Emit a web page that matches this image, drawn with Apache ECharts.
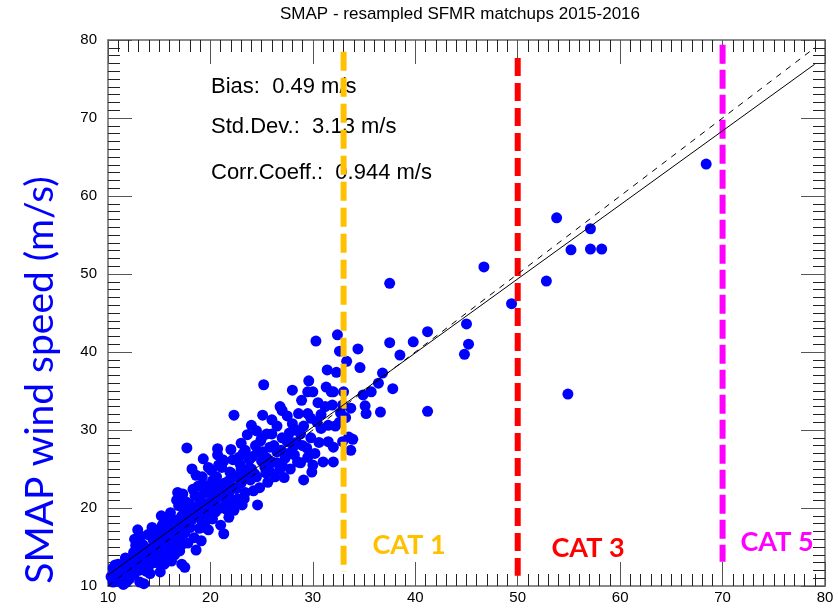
<!DOCTYPE html>
<html><head><meta charset="utf-8">
<script src="https://cdn.jsdelivr.net/npm/echarts@6/dist/echarts.min.js"></script>
<style>html,body{margin:0;padding:0;background:#fff}#c{width:838px;height:611px}</style>
</head><body><div id="c"></div>
<script>
const titleText = "SMAP - resampled SFMR matchups 2015-2016";
const yAxisTitle = "SMAP wind speed (m/s)";
const statsLines = ["Bias:  0.49 m/s", "Std.Dev.:  3.13 m/s", "Corr.Coeff.:  0.944 m/s"];
const catLabels = ["CAT 1", "CAT 3", "CAT 5"];
const xTicks = [10, 20, 30, 40, 50, 60, 70, 80];
const yTicks = [10, 20, 30, 40, 50, 60, 70, 80];

const matchups = [
 [10.3,11.2],[10.5,12.3],[10.8,10.6],[10.6,11.8],[11.2,11.0],[11.0,12.8],[10.7,12.7],[11.5,10.2],[11.3,12.0],
 [11.8,11.5],[12.0,11.8],[12.2,13.2],[11.7,13.6],[12.4,12.6],[12.1,10.9],[12.5,14.3],[12.9,13.0],[13.1,10.5],[13.5,10.3],[12.7,15.2],
 [12.9,17.2],[13.2,16.4],[12.6,16.0],
 [13.3,12.2],[13.6,13.5],[13.8,14.8],[13.4,15.3],[14.0,12.6],[14.2,13.8],[14.4,15.9],[13.9,16.6],[14.6,14.4],[14.1,11.6],[14.8,13.0],[13.7,11.9],
 [15.0,15.0],[15.2,16.2],[15.4,14.2],[14.9,17.1],[15.5,12.8],[15.7,15.6],[15.3,17.8],[15.9,16.8],[15.6,13.6],[16.0,14.6],[15.1,11.8],
 [16.2,15.2],[16.4,17.0],[16.6,18.4],[16.1,19.4],[16.8,16.2],[16.5,14.0],[17.0,17.5],[17.2,19.0],[16.9,20.3],[17.3,15.4],[17.5,16.8],[17.4,18.2],[17.2,12.8],[17.5,12.4],[16.7,21.0],[17.6,20.8],[17.8,17.7],
 [18.0,18.9],[18.2,20.2],[18.4,16.2],[18.5,21.6],[18.7,19.0],[18.9,17.4],[18.3,22.4],[19.0,20.4],[19.2,18.2],[19.4,21.9],[19.1,15.8],[19.6,19.6],[19.3,23.0],[19.8,17.2],[18.6,14.6],[17.7,27.7],[19.9,22.5],
 [20.0,20.8],[20.2,18.6],[20.4,22.6],[20.6,24.0],[20.1,24.8],[20.7,20.0],[20.9,21.8],[21.1,25.2],[21.0,17.8],[21.3,16.7],[21.4,23.2],[21.6,19.8],[21.2,26.2],[20.7,26.8],[21.8,21.6],[21.9,24.6],
 [22.0,22.8],[22.2,26.2],[22.3,19.7],[22.5,24.0],[22.7,21.2],[22.3,31.9],[22.9,25.6],[23.0,23.2],[23.2,27.0],[23.4,22.0],[23.6,29.4],[23.1,20.4],[23.7,25.0],[23.4,27.4],[23.9,23.6],[23.4,23.8],
 [24.1,26.6],[24.3,24.4],[24.6,27.2],[24.6,20.4],[24.8,22.6],[24.9,28.6],[25.1,31.9],[25.2,35.8],[25.0,29.0],[25.1,27.2],[25.3,25.3],[25.6,23.3],[25.5,26.4],[25.8,24.7],[26.0,31.3],[26.2,28.0],[26.0,25.9],
 [26.5,27.2],[26.9,27.4],[26.8,25.0],[27.0,29.0],[27.3,26.4],[27.5,31.8],[27.7,29.6],[27.2,23.9],[27.6,27.0],[28.0,35.1],[28.1,27.9],[28.5,25.9],[28.6,32.1],[28.3,30.0],[28.9,33.8],[28.8,25.8],[29.1,23.6],[28.4,28.4],
 [29.1,30.5],[29.4,27.7],[29.5,34.9],[29.5,32.1],[29.6,36.3],[30.0,34.9],[30.0,25.5],[30.3,41.4],[29.8,29.0],[30.4,31.0],[30.6,28.4],[31.0,25.9],[31.4,37.7],[31.5,30.6],[31.2,33.0],[30.8,30.2],
 [31.9,33.2],[32.0,34.9],[32.0,27.8],[32.0,25.9],[32.3,37.4],[32.4,42.2],[32.6,40.1],[32.7,32.2],[32.9,28.5],[33.0,34.9],[33.3,38.8],[33.7,27.4],[33.9,28.8],[33.5,29.1],[32.2,30.5],[31.8,34.9],[32.9,33.2],[33.7,32.8],[33.2,31.6],[32.6,31.0],
 [34.4,40.4],[34.6,38.0],[34.9,34.5],[35.1,33.1],[35.2,32.1],[35.7,34.9],[36.4,36.0],[36.8,37.3],[36.6,32.3],[37.5,48.8],[37.5,41.2],[37.8,35.3],[38.5,39.6],[39.8,41.3],[41.2,42.6],[41.2,32.4],
 [45.0,43.6],[45.2,41.0],[44.8,39.7],[46.7,50.9],[49.4,46.2],[52.8,49.1],[53.8,57.2],[55.2,53.1],[57.1,55.8],[57.1,53.2],[58.2,53.2],[54.9,34.6],[68.4,64.1],
 [14.5,15.0],[15.0,13.5],[15.8,15.0],[16.3,16.0],[16.9,18.5],[17.5,19.5],[18.0,17.5],[18.6,19.8],[19.0,21.0],[19.5,20.5],[20.0,22.0],[20.5,21.0],[21.0,23.0],[21.5,22.0],[22.0,24.5],[22.5,22.5],[23.0,25.0],[24.0,25.0],[24.5,24.0],[25.0,26.0],
 [13.0,14.0],[12.0,12.5],[11.5,12.5],[16.0,17.5],[17.0,16.0],[18.2,18.5],[19.6,18.5],[20.5,19.5],[21.5,20.8],[23.5,24.2],[26.5,25.8],[27.8,28.5],[26.0,29.5],[24.5,29.9],[23.0,28.3],[22.0,27.5],[21.3,26.0],[19.8,25.2],[18.6,24.2],[20.7,27.6],
 [12.5,11.5],[13.0,12.0],[13.5,14.5],[14.0,14.0],[14.5,13.0],[14.7,16.5],[15.5,17.0],[16.0,18.5],[16.5,15.5],[16.2,13.2],[17.0,14.5],[17.8,15.5],[18.0,20.5],[18.8,22.8],[19.2,24.0],[19.5,17.5],[20.2,23.5],[20.8,25.5],[21.0,20.0],[21.8,23.5],
 [22.2,20.8],[22.8,26.5],[23.3,21.2],[23.8,26.2],[24.2,22.2],[24.4,28.0],[25.4,24.5],[25.8,27.8],[26.3,24.0],[27.0,25.5],[27.5,28.5],[28.2,26.8],[28.8,29.5],[29.5,26.5],[30.2,27.0],[30.5,33.5],[31.5,28.5],[19.0,19.0],[20.3,20.5],[21.8,18.8],
 [14.3,17.5],[13.2,13.0],[11.0,11.5],[10.5,10.5],[11.8,10.5],[16.8,22.0],[18.2,25.0],[19.3,26.3],[15.2,19.0],[17.3,21.8],
 [25.5,29.5],[26.5,30.5],[27.0,32.5],[28.0,30.8],[29.0,28.0],[29.8,31.5],[30.8,32.0],[31.3,35.5],[26.8,33.0],[24.0,30.6],[27.8,25.0],[29.9,24.6]
];

const fitLine = [[10, 11.4], [79, 76.9]];
const oneToOne = [[10, 10], [79, 79]];
const cat1Line = [[33, 78.5], [33, 11.8]];
const cat3Line = [[50, 77.7], [50, 11.3]];
const cat5Line = [[70, 79.4], [70, 13.1]];

const chart = echarts.init(document.getElementById('c'), null, {renderer: 'canvas'});
const FONT = 'Liberation Sans, Arial, sans-serif';
const axisCommon = {
  min: 10, max: 80, interval: 10,
  axisLine: {show: true, onZero: false, lineStyle: {color: '#666', width: 1.5}},
  axisTick: {show: true, inside: true, length: 24, lineStyle: {color: '#555', width: 1}},
  minorTick: {show: true, splitNumber: 10, length: 12, lineStyle: {color: '#222', width: 1}},
  splitLine: {show: false},
};
function dashLine(data, color, w, dash) {
  return {type: 'line', data: data, symbol: 'none', silent: true, animation: false,
    lineStyle: {color: color, width: w, type: dash}, z: 3};
}
chart.setOption({
  animation: false,
  backgroundColor: '#fff',
  grid: {left: 108, right: 13, top: 40, bottom: 25, containLabel: false},
  xAxis: [
    Object.assign({type: 'value', position: 'bottom',
      axisLabel: {show: true, color: '#000', fontFamily: FONT, fontSize: 15, margin: 4}}, axisCommon),
    Object.assign({type: 'value', position: 'top', axisLabel: {show: false}}, axisCommon)
  ],
  yAxis: [
    Object.assign({type: 'value', position: 'left',
      axisLabel: {show: true, color: '#000', fontFamily: FONT, fontSize: 15, margin: 11}}, axisCommon),
    Object.assign({type: 'value', position: 'right', axisLabel: {show: false}}, axisCommon)
  ],
  series: [
    {type: 'scatter', data: matchups, symbol: 'circle', symbolSize: 11,
      itemStyle: {color: '#0000FF', opacity: 1}, z: 2, animation: false},
    {type: 'line', data: oneToOne, symbol: 'none', lineStyle: {color: '#000', width: 1, type: [6, 6]}, z: 4, animation: false},
    {type: 'line', data: fitLine, symbol: 'none', lineStyle: {color: '#000', width: 1, type: 'solid'}, z: 4, animation: false},
    dashLine(cat1Line, '#FFC000', 6, [19, 7]),
    dashLine(cat3Line, '#FF0000', 6, [18, 7]),
    dashLine(cat5Line, '#FF00FF', 6, [19, 6])
  ],
  graphic: [
    {type: 'text', x: 460, y: 14, style: {text: titleText, font: '17px ' + FONT, fill: '#000', textAlign: 'center', textVerticalAlign: 'middle'}},
    {type: 'text', x: 211, y: 87, style: {text: statsLines[0], font: '22px ' + FONT, fill: '#000', textVerticalAlign: 'middle'}},
    {type: 'text', x: 211, y: 127, style: {text: statsLines[1], font: '22px ' + FONT, fill: '#000', textVerticalAlign: 'middle'}},
    {type: 'text', x: 211, y: 173, style: {text: statsLines[2], font: '22px ' + FONT, fill: '#000', textVerticalAlign: 'middle'}},
    {type: 'text', x: 409, y: 545, style: {text: catLabels[0], font: 'bold 27px Lato, sans-serif', fill: '#FFC000', textAlign: 'center', textVerticalAlign: 'middle'}},
    {type: 'text', x: 588, y: 548, style: {text: catLabels[1], font: 'bold 27px Lato, sans-serif', fill: '#FF0000', textAlign: 'center', textVerticalAlign: 'middle'}},
    {type: 'text', x: 777, y: 542, style: {text: catLabels[2], font: 'bold 27px Lato, sans-serif', fill: '#FF00FF', textAlign: 'center', textVerticalAlign: 'middle'}},
    {type: 'text', x: 40, y: 380, rotation: Math.PI / 2, style: {text: yAxisTitle, font: '39px Lato, sans-serif', fill: '#0000FF', textAlign: 'center', textVerticalAlign: 'middle'}}
  ]
});
</script></body></html>
